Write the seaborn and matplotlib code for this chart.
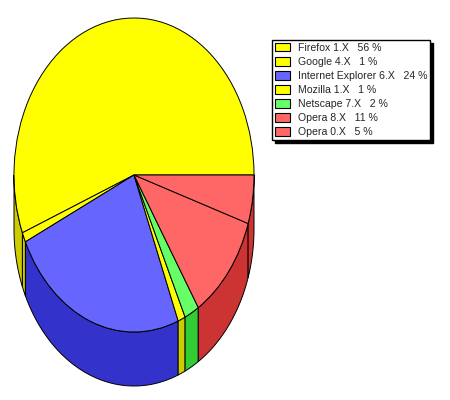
import numpy as np
import matplotlib
matplotlib.use('Agg')
import matplotlib.pyplot as plt
from matplotlib.patches import Patch
import seaborn as sns

browsers = ['Firefox 1.X', 'Google 4.X', 'Internet Explorer 6.X', 'Mozilla 1.X',
            'Netscape 7.X', 'Opera 8.X', 'Opera 0.X']
shares = [56, 1, 24, 1, 2, 11, 5]
top_colors = ['#FFFF00', '#FFFF00', '#6666FF', '#FFFF00', '#66FF66', '#FF6666', '#FF6666']
side_colors = ['#CCCC00', '#CCCC00', '#3333CC', '#CCCC00', '#33CC33', '#CC3333', '#CC3333']

sns.set_style('white')
plt.rcParams['font.family'] = ['Liberation Sans', 'DejaVu Sans']

# pixel layout of the pie on the 450x400 canvas
cx, cy, rx, ry, depth = 134, 175, 120, 157, 54

fig = plt.figure(figsize=(4.5, 4), dpi=100)
ax = fig.add_axes([0, 0, 1, 1])

wedges, _ = ax.pie(shares, colors=top_colors, startangle=0, counterclock=True, radius=1,
                   wedgeprops={'edgecolor': 'black', 'linewidth': 0.7})
for w in wedges:
    w.set_zorder(3)
ax.set_aspect('auto')
ax.set_xlim(-cx / rx, (450 - cx) / rx)
ax.set_ylim((cy - 400) / ry, cy / ry)

# side wall of the pie, only the front half shows
drop = depth / ry
edges = np.cumsum([0] + shares) / sum(shares) * 360
for start, end, col in zip(edges[:-1], edges[1:], side_colors):
    a0, a1 = max(start, 180), max(end, 180)
    if a1 <= a0:
        continue
    t = np.radians(np.linspace(a0, a1, 80))
    xs = np.concatenate([np.cos(t), np.cos(t[::-1])])
    ys = np.concatenate([np.sin(t), np.sin(t[::-1]) - drop])
    ax.fill(xs, ys, facecolor=col, edgecolor='black', linewidth=0.7, zorder=2)

handles = [Patch(facecolor=c, edgecolor='black', linewidth=0.8) for c in top_colors]
labels = [f'{b}   {s} %' for b, s in zip(browsers, shares)]
leg = fig.legend(handles, labels, loc='upper left',
                 bbox_to_anchor=(272 / 450, 1 - 40 / 400), borderaxespad=0,
                 fontsize=7.6, frameon=True, fancybox=False, framealpha=1,
                 edgecolor='black', facecolor='white',
                 shadow={'facecolor': 'black', 'edgecolor': 'black', 'alpha': 1},
                 handlelength=1.5, handleheight=0.9, handletextpad=0.72,
                 labelspacing=0.39, borderpad=0.25)

fig.savefig('out.png', dpi=100, facecolor='white')
